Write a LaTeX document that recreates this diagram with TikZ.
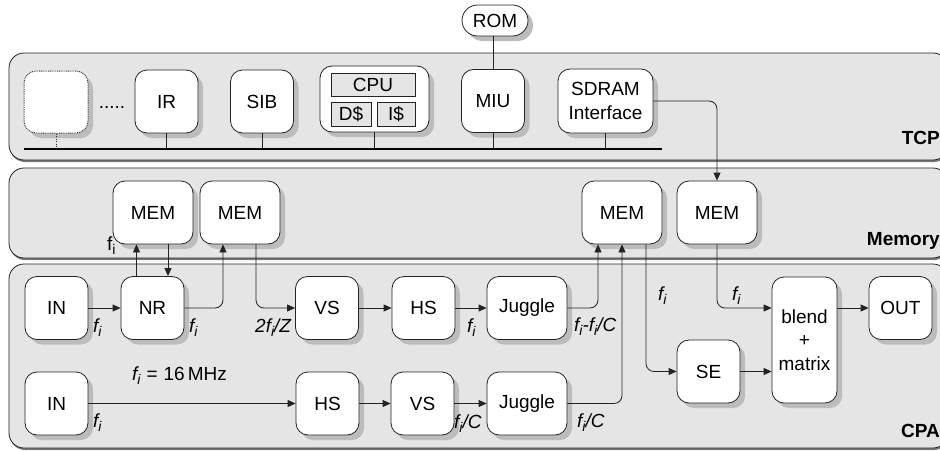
\documentclass[tikz,border=0pt]{standalone}
\usepackage{fontspec}
\setmainfont{Liberation Sans}
\usetikzlibrary{arrows.meta,shadows}
\definecolor{panelfill}{RGB}{229,229,229}
\definecolor{boxshadow}{RGB}{188,188,188}
\definecolor{panelshadow}{RGB}{120,120,120}
\definecolor{ink}{RGB}{35,35,35}
\newcommand\sbi{\raisebox{-4.5pt}{\fontsize{14}{14}\selectfont i}}
\newcommand\fii{\textit{f\sbi}}
\begin{document}
\begin{tikzpicture}[x=1pt,y=-1pt,
  every node/.style={inner sep=0pt},
  txt/.style={font=\fontsize{19}{23.5}\selectfont},
  panel/.style={draw=ink, line width=0.8pt, fill=panelfill, rounded corners=15pt,
     drop shadow={shadow xshift=1pt, shadow yshift=-2pt, fill=panelshadow, opacity=1}},
  blk/.style={txt, draw=ink, line width=0.8pt, fill=white, rounded corners=12pt,
     minimum width=63pt, minimum height=63pt, align=center,
     drop shadow={shadow xshift=5pt, shadow yshift=-5pt, fill=boxshadow, opacity=1}},
  wideblk/.style={blk, minimum width=80pt},
  cell/.style={txt, draw=ink, line width=0.6pt, fill=panelfill},
  conn/.style={draw=ink, line width=0.8pt, rounded corners=8pt, -{Triangle[length=8pt,width=7pt]}},
  wire/.style={draw=ink, line width=0.8pt},
  lbl/.style={txt, anchor=base west},
  ttl/.style={font=\fontsize{19}{23}\selectfont\bfseries, anchor=base east},
]
\useasboundingbox (0,0) rectangle (940,450);
% panels
\path[panel] (9,53) rectangle (948,160);
\path[panel] (9,168) rectangle (948,258);
\path[panel] (9,264) rectangle (948,448);
\node[ttl] (tcpT) at (940,144) {TCP};
\node[ttl] (memT) at (940,245) {Memory};
\node[ttl] (cpaT) at (940,437) {CPA};

% bus
\coordinate (busL) at (24,149);
\coordinate (busR) at (662,149);
\draw[line width=2.2pt, black] (busL) -- (busR);

% TCP nodes
\node[blk, draw=gray!50!black, line width=1pt, dash pattern=on 0.9pt off 0.9pt, minimum width=64pt, minimum height=62pt] (dummy) at (56,102) {};
\node[txt, anchor=base] (dots) at (112,108.5) {.....};
\node[blk] (ir) at (166.5,101.5) {IR};
\node[blk] (sib) at (262,101.5) {SIB};
\node[blk, minimum width=109pt, minimum height=66pt] (cpu) at (374.5,99) {};
\node[cell, minimum width=84pt, minimum height=23pt] (core) at (373,84.5) {CPU};
\node[cell, minimum width=40pt, minimum height=24pt] (dc) at (351,114) {D\$};
\node[cell, minimum width=38pt, minimum height=24pt] (ic) at (396,114) {I\$};
\node[blk] (miu) at (493,101) {MIU};
\node[blk, minimum width=66pt, minimum height=31pt, rounded corners=15.5pt] (rom) at (495,20.5) {ROM};
\node[blk, minimum width=95pt, minimum height=64pt] (sdram) at (605.5,101) {SDRAM\\Interface};

\draw[ink, line width=1pt, dash pattern=on 1pt off 1.5pt] (dummy.south) -- (dummy.south |- busL);
\foreach \n in {ir,sib,cpu,miu,sdram} \draw[wire] (\n.south) -- (\n.south |- busL);
\draw[wire] (miu.north) -- (miu.north |- rom.south);

% Memory nodes
\node[wideblk] (mem1) at (153,212.5) {MEM};
\node[wideblk] (mem2) at (240,212.5) {MEM};
\node[wideblk] (mem3) at (622,212.5) {MEM};
\node[wideblk] (mem4) at (717,212.5) {MEM};

% CPA nodes
\node[blk] (in1) at (56.5,308) {IN};
\node[blk] (nr) at (152.5,308) {NR};
\node[blk] (vs1) at (327,308) {VS};
\node[blk] (hs1) at (423.5,308) {HS};
\node[wideblk] (j1) at (527,308) {Juggle};
\node[blk, minimum width=65pt, minimum height=126pt] (blend) at (804.5,340) {blend\\+\\matrix};
\node[blk] (out) at (900.5,308) {OUT};
\node[blk] (se) at (708.5,371.5) {SE};
\node[blk] (in2) at (56.5,403.5) {IN};
\node[blk] (hs2) at (327.5,403.5) {HS};
\node[blk] (vs2) at (422.5,403.5) {VS};
\node[wideblk] (j2) at (527,403.5) {Juggle};

% connectors
\draw[conn] (sdram.east) -| (mem4.north);
\draw[conn] (in1) -- (nr);
\draw[conn] ([xshift=-16pt]nr.north) -- ([xshift=-16pt]nr.north |- mem1.south);
\draw[conn] ([xshift=15pt]mem1.south) -- ([xshift=15pt]mem1.south |- nr.north);
\draw[conn] (nr.east) -| ([xshift=-17pt]mem2.south);
\draw[conn] ([xshift=16pt]mem2.south) |- (vs1.west);
\draw[conn] (vs1) -- (hs1);
\draw[conn] (hs1) -- (j1);
\draw[conn] (j1.east) -| ([xshift=-24pt]mem3.south);
\draw[conn] (j2.east) -| (mem3.south);
\draw[conn] ([xshift=24pt]mem3.south) |- (se.west);
\draw[conn] (mem4.south) |- (blend.west |- out.west);
\draw[conn] (se.east) -- (blend.west |- se.east);
\draw[conn] (blend.east |- out.west) -- (out.west);
\draw[conn] (in2) -- (hs2);
\draw[conn] (hs2) -- (vs2);
\draw[conn] (vs2) -- (j2);

% labels
\node[lbl] (l1) at (93,332) {\fii};
\node[lbl] (l2) at (189,332) {\fii};
\node[lbl] (l3) at (255,332) {\textit{2f\sbi/Z}};
\node[lbl] (l4) at (467,332) {\fii};
\node[lbl] (l5) at (574,331) {\textit{f\sbi-f\sbi/C}};
\node[lbl] (l6) at (107,250) {f\sbi};
\node[lbl] (l7) at (658,300) {\fii};
\node[lbl] (l8) at (732,300) {\fii};
\node[lbl] (l9) at (132,380) {\fii\hspace{6pt}=\hspace{6pt}16\hspace{3pt}MHz};
\node[lbl] (l10) at (93,427) {\fii};
\node[lbl] (l11) at (454,428) {\textit{f\sbi/C}};
\node[lbl] (l12) at (577,427) {\textit{f\sbi/C}};
\end{tikzpicture}
\end{document}
